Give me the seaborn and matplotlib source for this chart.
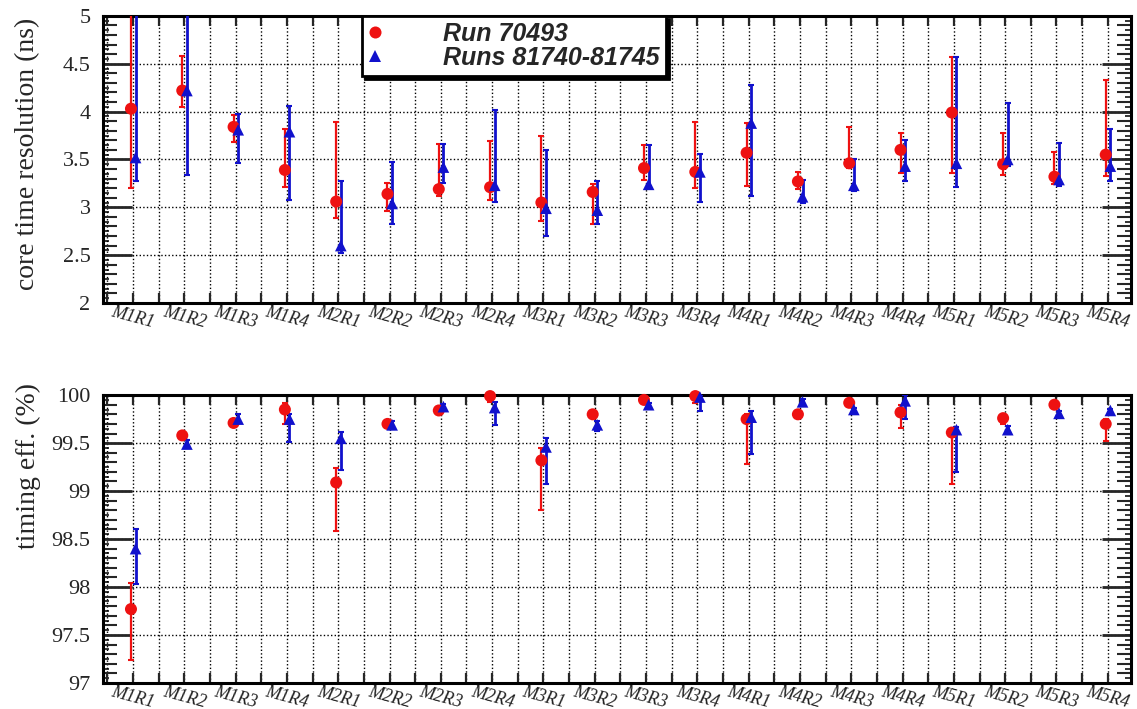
import numpy as np
import pandas as pd
import matplotlib
matplotlib.use("Agg")
import matplotlib.pyplot as plt
import seaborn as sns

# ================= DATA =================
chambers = ["M1R1", "M1R2", "M1R3", "M1R4", "M2R1", "M2R2", "M2R3", "M2R4",
            "M3R1", "M3R2", "M3R3", "M3R4", "M4R1", "M4R2", "M4R3", "M4R4",
            "M5R1", "M5R2", "M5R3", "M5R4"]

series_names = ["Run 70493", "Runs 81740-81745"]

# core time resolution (ns)
res_a = [4.03, 4.22, 3.84, 3.39, 3.06, 3.14, 3.19, 3.21, 3.05, 3.16,
         3.41, 3.37, 3.57, 3.27, 3.46, 3.60, 3.99, 3.45, 3.32, 3.55]
res_a_lo = [3.20, 4.05, 3.68, 3.21, 2.89, 2.96, 3.12, 3.08, 2.86, 2.83,
            3.29, 3.20, 3.22, 3.19, 3.41, 3.36, 3.36, 3.34, 3.24, 3.33]
res_a_hi = [5.50, 4.58, 3.96, 3.82, 3.89, 3.25, 3.66, 3.69, 3.75, 3.24,
            3.65, 3.89, 3.88, 3.37, 3.84, 3.78, 4.57, 3.78, 3.58, 4.33]
res_b = [3.52, 4.22, 3.81, 3.79, 2.60, 3.04, 3.42, 3.23, 2.99, 2.97,
         3.24, 3.37, 3.88, 3.11, 3.23, 3.43, 3.46, 3.50, 3.29, 3.43]
res_b_lo = [3.27, 3.34, 3.46, 3.08, 2.52, 2.83, 3.25, 3.06, 2.70, 2.83,
            3.22, 3.06, 3.12, 3.05, 3.17, 3.27, 3.21, 3.43, 3.22, 3.27]
res_b_hi = [5.50, 5.50, 3.98, 4.06, 3.27, 3.47, 3.66, 4.02, 3.60, 3.28,
            3.65, 3.56, 4.28, 3.29, 3.50, 3.70, 4.57, 4.09, 3.67, 3.82]

# timing efficiency (%)
eff_a = [97.77, 99.58, 99.71, 99.85, 99.09, 99.70, 99.84, 99.99, 99.32, 99.80,
         99.95, 99.99, 99.75, 99.80, 99.92, 99.82, 99.61, 99.76, 99.90, 99.70]
eff_a_lo = [97.24, 99.55, 99.68, 99.70, 98.58, 99.67, 99.82, 99.93, 98.80, 99.77,
            99.93, 99.92, 99.28, 99.77, 99.90, 99.66, 99.07, 99.70, 99.88, 99.52]
eff_a_hi = [98.04, 99.61, 99.74, 99.92, 99.24, 99.73, 99.87, 100.0, 99.45, 99.83,
            99.97, 100.0, 99.80, 99.83, 99.94, 99.90, 99.65, 99.80, 99.92, 99.75]
eff_b = [98.40, 99.49, 99.75, 99.75, 99.55, 99.69, 99.88, 99.87, 99.46, 99.69,
         99.90, 99.98, 99.77, 99.93, 99.85, 99.94, 99.64, 99.64, 99.81, 99.84]
eff_b_lo = [98.03, 99.45, 99.71, 99.51, 99.22, 99.65, 99.85, 99.69, 99.07, 99.63,
            99.88, 99.83, 99.39, 99.91, 99.83, 99.75, 99.20, 99.60, 99.79, 99.82]
eff_b_hi = [98.60, 99.53, 99.80, 99.80, 99.62, 99.73, 99.91, 99.93, 99.55, 99.73,
            99.92, 100.0, 99.83, 99.96, 99.87, 100.0, 99.67, 99.68, 99.83, 99.86]
# ========================================

RED = "#ee1111"
BLUE = "#1111cc"
SERIF = ["Liberation Serif", "DejaVu Serif"]

sns.set_theme(style="white")
plt.rcParams["font.family"] = SERIF


def build_frame(a, a_lo, a_hi, b, b_lo, b_hi):
    x = np.arange(len(chambers))
    df_a = pd.DataFrame({"x": x - 0.04, "y": a, "lo": a_lo, "hi": a_hi,
                         "series": series_names[0]})
    df_b = pd.DataFrame({"x": x + 0.05, "y": b, "lo": b_lo, "hi": b_hi,
                         "series": series_names[1]})
    return pd.concat([df_a, df_b], ignore_index=True)


def style_axis(ax, ylo, yhi, ylabel, label_y):
    ax.set_xlim(-0.585, 19.45)
    ax.set_ylim(ylo, yhi)
    ax.set_xticks(np.arange(len(chambers)))
    ax.set_xticklabels(chambers, rotation=-15, ha="center", fontsize=13,
                       style="italic", color="#222222")
    ax.set_xticks(np.arange(-0.5, 19.5, 1.0), minor=True)
    ax.set_yticks(np.arange(ylo, yhi + 0.01, 0.5))
    ax.set_yticklabels([f"{v:g}" for v in np.arange(ylo, yhi + 0.01, 0.5)],
                       fontsize=16)
    ax.set_yticks(np.arange(ylo, yhi + 0.01, 0.1), minor=True)

    ax.tick_params(axis="x", which="both", direction="in", length=7, width=1.6,
                   top=True, bottom=True, pad=0)
    ax.tick_params(axis="y", which="major", direction="in", length=21, width=2.0,
                   left=True, right=True, pad=9)
    ax.tick_params(axis="y", which="minor", direction="in", length=10, width=1.5,
                   left=True, right=True)

    grid_kw = dict(color="black", linestyle=(0, (1, 1.6)), linewidth=1.0)
    ax.grid(axis="x", which="both", **grid_kw)
    ax.grid(axis="y", which="major", **grid_kw)
    ax.set_axisbelow(True)

    for sp in ax.spines.values():
        sp.set_visible(True)
        sp.set_color("black")
        sp.set_linewidth(2.2)

    # finest tick level on both vertical axes
    fine = np.arange(ylo, yhi + 0.001, 0.05)
    for side in ("left", "right"):
        sec = ax.secondary_yaxis(side)
        sec.set_ticks(fine)
        sec.tick_params(direction="in", length=4, width=1.3,
                        labelleft=False, labelright=False)
        for sp in sec.spines.values():
            sp.set_visible(False)

    ax.set_xlabel("")
    ax.set_ylabel(ylabel, fontsize=20, loc="top")
    ax.yaxis.set_label_coords(-0.073, label_y)
    ax.yaxis.label.set_verticalalignment("center")


def draw_panel(ax, df, legend=False):
    for name, color, lw in [(series_names[0], RED, 1.6), (series_names[1], BLUE, 2.0)]:
        sub = df[df["series"] == name]
        ax.errorbar(sub["x"], sub["y"],
                    yerr=[sub["y"] - sub["lo"], sub["hi"] - sub["y"]],
                    fmt="none", ecolor=color, elinewidth=lw, capsize=2.5,
                    capthick=1.5, zorder=3)
    sns.scatterplot(data=df, x="x", y="y", hue="series", style="series",
                    hue_order=series_names, style_order=series_names,
                    palette=[RED, BLUE], markers=["o", "^"],
                    size="series", sizes={series_names[0]: 75, series_names[1]: 70},
                    edgecolor="none", linewidth=0, ax=ax, zorder=4,
                    legend=legend, clip_on=False)


fig = plt.figure(figsize=(11.37, 7.09), dpi=100)
ax_top = fig.add_axes([0.0906, 0.5726, 0.9040, 0.4050])
ax_bot = fig.add_axes([0.0906, 0.0367, 0.9040, 0.4060])

res_df = build_frame(res_a, res_a_lo, res_a_hi, res_b, res_b_lo, res_b_hi)
eff_df = build_frame(eff_a, eff_a_lo, eff_a_hi, eff_b, eff_b_lo, eff_b_hi)

draw_panel(ax_top, res_df, legend="full")
draw_panel(ax_bot, eff_df)

style_axis(ax_top, 2.0, 5.0, "core time resolution (ns)", 0.993)
style_axis(ax_bot, 97.0, 100.0, "timing eff. (%)", 1.042)

handles, labels = ax_top.get_legend_handles_labels()
keep = [i for i, l in enumerate(labels) if l in series_names]
leg = ax_top.legend([handles[i] for i in keep], [labels[i] for i in keep],
                    loc="upper left", bbox_to_anchor=(0.252, 1.0),
                    frameon=True, fancybox=False, shadow={"color": "black", "alpha": 1.0},
                    edgecolor="black", framealpha=1.0, borderaxespad=0.0,
                    borderpad=0.25, handlelength=0.5, handletextpad=2.5,
                    labelspacing=0.0, markerscale=1.0,
                    prop={"family": ["Liberation Sans", "DejaVu Sans"],
                          "weight": "bold", "style": "italic", "size": 18})
leg.get_frame().set_linewidth(2.0)

fig.savefig("out.png", dpi=100)
